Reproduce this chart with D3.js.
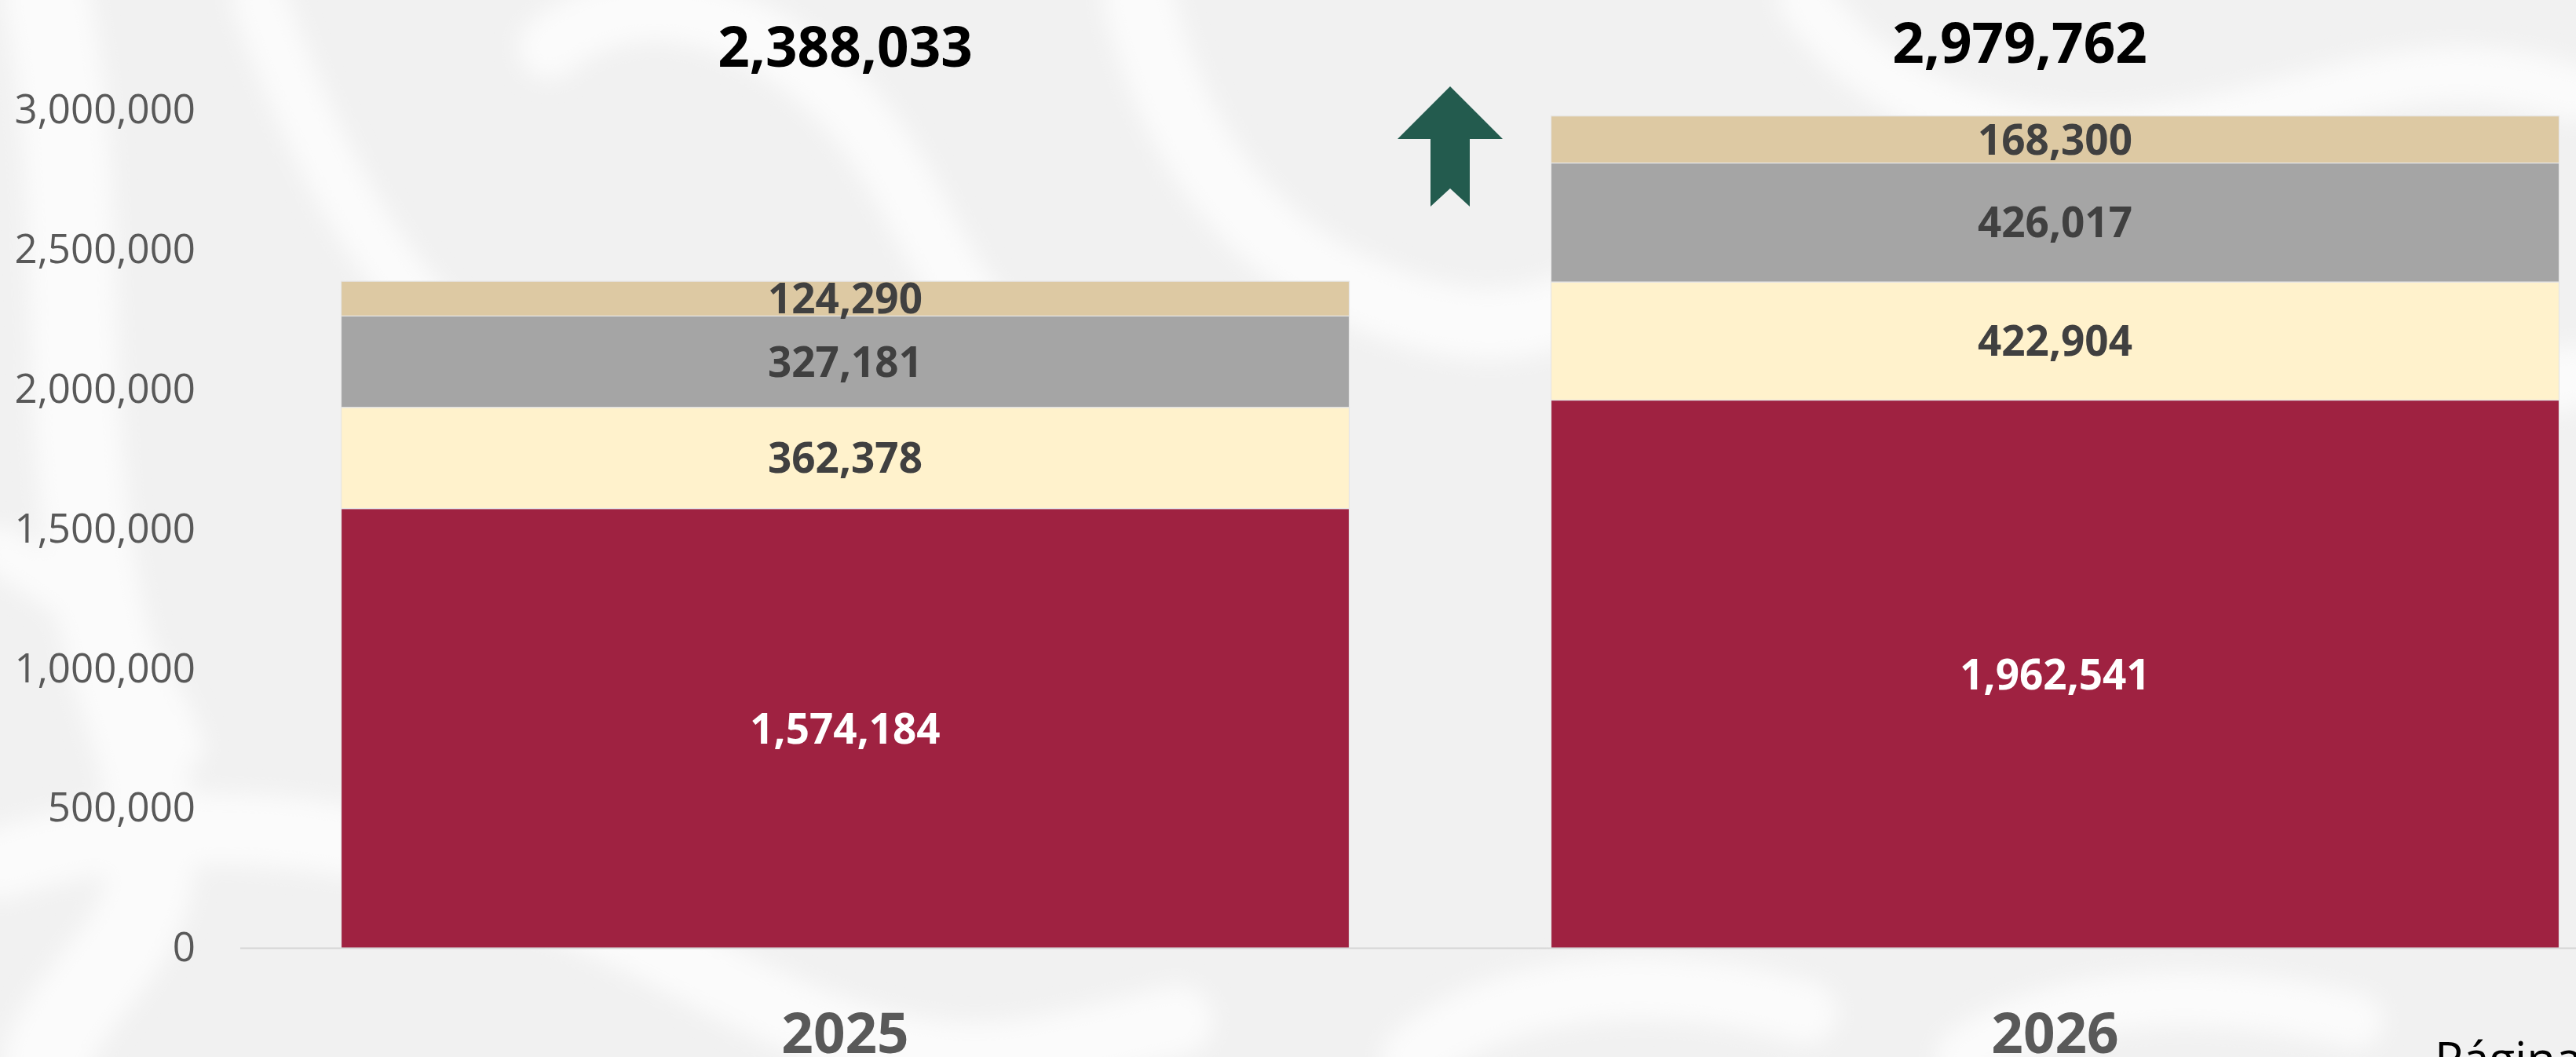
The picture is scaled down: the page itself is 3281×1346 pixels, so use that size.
<!DOCTYPE html>
<html>
<head>
<meta charset="utf-8">
<script src="https://cdn.jsdelivr.net/npm/d3@7"></script>
<style>
  html, body { margin: 0; padding: 0; background: #f2f2f2; overflow: hidden; }
  svg { display: block; font-family: "Open Sans", "Noto Sans", sans-serif; }
</style>
</head>
<body>
<svg id="chart" width="3281" height="1346"></svg>
<script>
// ---- data ----
const years = ["2025", "2026"];
const seriesNames = ["s1", "s2", "s3", "s4"];
const s1Values = [1574184, 1962541];
const s2Values = [362378, 422904];
const s3Values = [327181, 426017];
const s4Values = [124290, 168300];
const totals = [2388033, 2979762];
const yTickValues = [0, 500000, 1000000, 1500000, 2000000, 2500000, 3000000];
const pageLabel = "Página";

const colors = ["#9F2241", "#FFF2CC", "#A5A5A5", "#DDC9A3"];
const labelColors = ["#ffffff", "#404040", "#404040", "#404040"];

const W = 3281, H = 1346;
const svg = d3.select("#chart");

// ---- background watermark (decorative) ----
const defs = svg.append("defs");
defs.append("filter").attr("id", "blur").append("feGaussianBlur").attr("stdDeviation", 14);
svg.append("rect").attr("width", W).attr("height", H).attr("fill", "#f1f1f1");
const bg = svg.append("g").attr("filter", "url(#blur)").attr("fill", "none")
  .attr("stroke", "#fbfbfb").attr("stroke-linecap", "round");
const swirls = [
  ["M60,0 C120,300 60,600 160,900 S120,1200 60,1346", 110],
  ["M330,0 C420,250 520,420 700,520 S1000,700 1200,560", 70],
  ["M700,60 C820,-40 1000,30 1100,160 S1200,420 1400,520", 80],
  ["M1450,0 C1500,200 1600,320 1750,380 S2000,420 2150,300", 90],
  ["M2300,0 C2400,150 2600,200 2800,160 S3100,60 3281,120", 70],
  ["M2700,300 C2900,420 3100,520 3281,480", 80],
  ["M0,1100 C300,1000 600,1080 900,1240 S1300,1346 1500,1300", 90],
  ["M1800,1346 C1900,1260 2100,1230 2300,1290", 80],
  ["M2500,1346 C2600,1270 2800,1250 3000,1300", 70],
  ["M0,700 C100,760 180,820 230,950", 60]
];
swirls.forEach(s => bg.append("path").attr("d", s[0]).attr("stroke-width", s[1]));

// ---- scales ----
const x = d3.scaleBand().domain(years).range([306, 3388]).paddingInner(0.1668).paddingOuter(0.0834);
const y = d3.scaleLinear().domain([0, 3000000]).range([1207.5, 140.5]);

// ---- stacked data ----
const rows = years.map((yr, i) => ({ year: yr, s1: s1Values[i], s2: s2Values[i], s3: s3Values[i], s4: s4Values[i] }));
const stack = d3.stack().keys(seriesNames)(rows);

// ---- y axis ----
const yAxis = d3.axisLeft(y).tickValues(yTickValues).tickSize(0).tickPadding(57)
  .tickFormat(d3.format(","));
const gy = svg.append("g").attr("transform", "translate(306,0)").call(yAxis);
gy.select(".domain").remove();
gy.selectAll("text").attr("font-size", 51).attr("fill", "#595959")
  .attr("font-family", "'Open Sans', sans-serif");

// ---- bars ----
const layers = svg.append("g").selectAll("g").data(stack).join("g")
  .attr("fill", (d, i) => colors[i]);
layers.selectAll("rect").data(d => d).join("rect")
  .attr("x", d => x(d.data.year))
  .attr("width", x.bandwidth())
  .attr("y", d => y(d[1]))
  .attr("height", d => y(d[0]) - y(d[1]))
  .attr("stroke", "#e6e6e6").attr("stroke-width", 1.2);

// ---- baseline ----
svg.append("line").attr("x1", 306).attr("x2", W).attr("y1", y(0)).attr("y2", y(0))
  .attr("stroke", "#d6d6d6").attr("stroke-width", 2);

// ---- segment labels ----
stack.forEach((layer, li) => {
  svg.append("g").selectAll("text").data(layer).join("text")
    .attr("x", d => x(d.data.year) + x.bandwidth() / 2)
    .attr("y", d => (y(d[0]) + y(d[1])) / 2)
    .attr("dy", "0.36em")
    .attr("text-anchor", "middle")
    .attr("font-size", 53).attr("font-weight", 700)
    .attr("fill", labelColors[li])
    .text(d => d3.format(",")(d[1] - d[0]));
});

// ---- totals ----
const totalShift = [[0, 85], [-45, 80]]; // label placement tweaks (dx, baseline y)
svg.append("g").selectAll("text").data(years).join("text")
  .attr("x", (d, i) => x(d) + x.bandwidth() / 2 + totalShift[i][0])
  .attr("y", (d, i) => totalShift[i][1])
  .attr("text-anchor", "middle")
  .attr("font-size", 71).attr("font-weight", 700).attr("fill", "#000")
  .text((d, i) => d3.format(",")(totals[i]));

// ---- x axis labels ----
svg.append("g").selectAll("text").data(years).join("text")
  .attr("x", d => x(d) + x.bandwidth() / 2)
  .attr("y", 1341)
  .attr("text-anchor", "middle")
  .attr("font-size", 71).attr("font-weight", 700).attr("fill", "#595959")
  .text(d => d);

// ---- arrow between bars ----
const gapCx = (x(years[0]) + x.bandwidth() + x(years[1])) / 2;
const tipY = 110;
const arrow = [
  [0, 0], [67, 67], [25, 67], [25, 153], [0, 130], [-25, 153], [-25, 67], [-67, 67]
];
svg.append("path")
  .attr("d", d3.line()(arrow.map(p => [gapCx + p[0], tipY + p[1]])) + "Z")
  .attr("fill", "#235B4E");

// ---- page footer ----
svg.append("text").attr("x", 3101).attr("y", 1370)
  .attr("font-size", 60).attr("fill", "#000").text(pageLabel);
</script>
</body>
</html>
